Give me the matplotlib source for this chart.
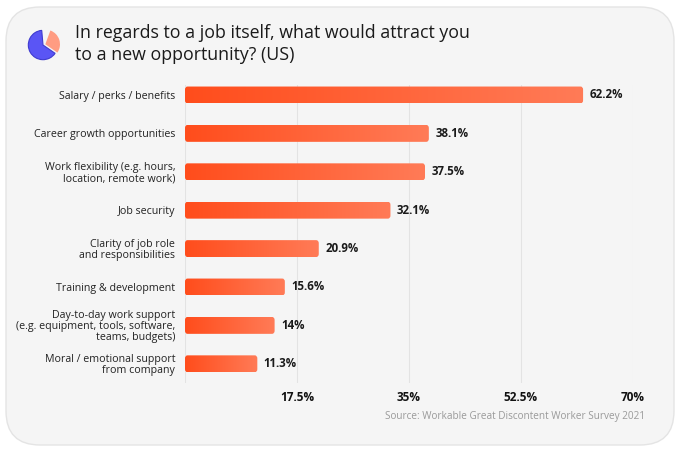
import matplotlib
matplotlib.use('Agg')
import matplotlib.pyplot as plt
import numpy as np
from matplotlib.patches import FancyBboxPatch
from matplotlib.colors import LinearSegmentedColormap

plt.rcParams['font.family'] = ['Open Sans', 'DejaVu Sans']

categories = [
    'Salary / perks / benefits',
    'Career growth opportunities',
    'Work flexibility (e.g. hours,\nlocation, remote work)',
    'Job security',
    'Clarity of job role\nand responsibilities',
    'Training & development',
    'Day-to-day work support\n(e.g. equipment, tools, software,\nteams, budgets)',
    'Moral / emotional support\nfrom company',
]
values = [62.2, 38.1, 37.5, 32.1, 20.9, 15.6, 14, 11.3]
value_labels = ['62.2%', '38.1%', '37.5%', '32.1%', '20.9%', '15.6%', '14%', '11.3%']
xticks = [0, 17.5, 35, 52.5, 70]
xtick_labels = ['', '17.5%', '35%', '52.5%', '70%']

W, H = 680, 451
fig = plt.figure(figsize=(W / 100, H / 100), dpi=100)
fig.patch.set_facecolor('white')

# card background
card = FancyBboxPatch((6 / W, 6 / H), 668 / W, 438 / H,
                      boxstyle='round,pad=0,rounding_size=0.05',
                      mutation_aspect=W / H,
                      transform=fig.transFigure, facecolor='#f5f5f5',
                      edgecolor='#e4e4e4', linewidth=1, zorder=-5)
fig.patches.append(card)

ax = fig.add_axes([185 / W, 1 - 383 / H, 448 / W, 298 / H])
ax.set_facecolor('none')
y = np.arange(len(values))
bars = ax.barh(y, values, height=0.44, color='#ff5a2a', zorder=2)

cmap = LinearSegmentedColormap.from_list('bar', ['#ff4d1c', '#ff7b57'])
grad = np.linspace(0, 1, 512).reshape(1, -1)
for b in bars:
    x0, y0, w, h = b.get_x(), b.get_y(), b.get_width(), b.get_height()
    b.set_visible(False)
    rb = FancyBboxPatch((x0, y0), w, h, boxstyle='round,pad=0,rounding_size=0.4',
                        mutation_aspect=0.2, facecolor='none', edgecolor='none')
    ax.add_patch(rb)
    im = ax.imshow(grad, extent=[x0, x0 + w, y0 + h, y0], cmap=cmap,
                   aspect='auto', zorder=3, interpolation='bilinear')
    im.set_clip_path(rb)

for yi, v, lab in zip(y, values, value_labels):
    ax.text(v + 1.0, yi, lab, va='center', ha='left', fontsize=8.3,
            fontweight='bold', color='#1a1a1a')

ax.set_xlim(0, 70)
ax.set_ylim(7.5, -0.26)
ax.set_xticks(xticks)
ax.set_xticklabels(xtick_labels, fontsize=8.5, fontweight='bold', color='#111111')
ax.set_yticks(y)
ax.set_yticklabels(categories, fontsize=7.7, color='#222222', linespacing=1.0)
ax.tick_params(axis='both', length=0)
ax.tick_params(axis='y', pad=7)
ax.tick_params(axis='x', pad=6)
ax.grid(axis='x', color='#e3e3e3', linewidth=0.8, zorder=0)
for s in ax.spines.values():
    s.set_visible(False)

# title
fig.text(75 / W, 1 - 33 / H, 'In regards to a job itself, what would attract you',
         fontsize=12.8, color='#1a1a1a', va='center', ha='left')
fig.text(75 / W, 1 - 55 / H, 'to a new opportunity? (US)',
         fontsize=12.8, color='#1a1a1a', va='center', ha='left')

# icon
iax = fig.add_axes([24 / W, 1 - 64 / H, 38 / W, 38 / H])
wedges, _ = iax.pie([7, 29, 64], colors=['none', '#ff9c82', '#5a55f5'],
                    startangle=95, counterclock=False,
                    explode=[0, 0.14, 0], radius=0.85)
wedges[2].set_edgecolor('#3f3bd0')
wedges[2].set_linewidth(0.8)
iax.set_xlim(-1.1, 1.1)
iax.set_ylim(-1.1, 1.1)
iax.set_aspect('equal')
iax.axis('off')

fig.text(645 / W, 1 - 416 / H, 'Source: Workable Great Discontent Worker Survey 2021',
         fontsize=7.2, color='#9a9a9a', ha='right', va='center')

fig.savefig('out.png', dpi=100, facecolor='white')
